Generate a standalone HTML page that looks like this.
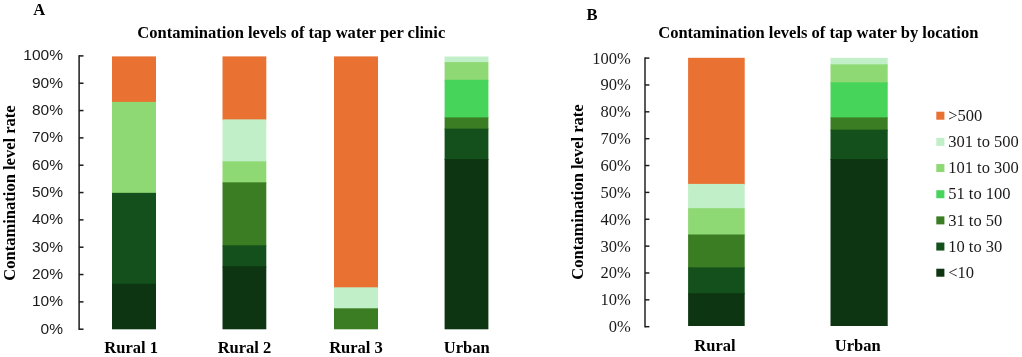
<!DOCTYPE html>
<html><head><meta charset="utf-8"><title>Contamination levels of tap water</title>
<style>
html,body{margin:0;padding:0;background:#fff;}
#fig{position:relative;width:1022px;height:357px;overflow:hidden;background:#fff;font-family:"Liberation Serif",serif;color:#000;}
#fig div{position:absolute;}
.seg{}
.t{white-space:nowrap;line-height:1;}
.b{font-weight:bold;font-size:16.55px;}
.ta{font-family:"Liberation Sans",sans-serif;font-size:15.5px;color:#1a1a1a;text-align:right;width:60px;}
.tb{font-family:"Liberation Serif",serif;font-size:16.5px;color:#1a1a1a;text-align:right;width:60px;}
.lg{font-family:"Liberation Serif",serif;font-size:16.5px;color:#1a1a1a;}
.ax{background:#262626;}
.c{text-align:center;width:120px;}
</style></head><body><div id="fig">

<svg width="1022" height="357" viewBox="0 0 1022 357" style="position:absolute;left:0;top:0">
<rect x="112.00" y="56.40" width="44.00" height="46.48" fill="#E97132"/>
<rect x="112.00" y="101.88" width="44.00" height="91.97" fill="#8ED973"/>
<rect x="112.00" y="192.85" width="44.00" height="91.97" fill="#13501B"/>
<rect x="112.00" y="283.82" width="44.00" height="45.48" fill="#0D3512"/>
<rect x="222.50" y="56.40" width="43.80" height="63.98" fill="#E97132"/>
<rect x="222.50" y="119.38" width="43.80" height="42.98" fill="#C1F0C8"/>
<rect x="222.50" y="161.36" width="43.80" height="21.99" fill="#8ED973"/>
<rect x="222.50" y="182.35" width="43.80" height="63.98" fill="#3B7D23"/>
<rect x="222.50" y="245.33" width="43.80" height="21.99" fill="#13501B"/>
<rect x="222.50" y="266.32" width="43.80" height="62.98" fill="#0D3512"/>
<rect x="334.00" y="56.40" width="44.00" height="231.92" fill="#E97132"/>
<rect x="334.00" y="287.32" width="44.00" height="21.99" fill="#C1F0C8"/>
<rect x="334.00" y="308.31" width="44.00" height="20.99" fill="#3B7D23"/>
<rect x="444.60" y="56.50" width="43.80" height="6.60" fill="#C1F0C8"/>
<rect x="444.60" y="62.10" width="43.80" height="18.70" fill="#8ED973"/>
<rect x="444.60" y="79.80" width="43.80" height="38.60" fill="#47D45A"/>
<rect x="444.60" y="117.40" width="43.80" height="12.20" fill="#3B7D23"/>
<rect x="444.60" y="128.60" width="43.80" height="31.50" fill="#13501B"/>
<rect x="444.60" y="159.10" width="43.80" height="170.20" fill="#0D3512"/>
<rect x="688.10" y="57.80" width="56.60" height="127.10" fill="#E97132"/>
<rect x="688.10" y="183.90" width="56.60" height="25.30" fill="#C1F0C8"/>
<rect x="688.10" y="208.20" width="56.60" height="27.30" fill="#8ED973"/>
<rect x="688.10" y="234.50" width="56.60" height="33.90" fill="#3B7D23"/>
<rect x="688.10" y="267.40" width="56.60" height="26.90" fill="#13501B"/>
<rect x="688.10" y="293.30" width="56.60" height="32.70" fill="#0D3512"/>
<rect x="830.50" y="57.90" width="57.20" height="7.45" fill="#C1F0C8"/>
<rect x="830.50" y="64.35" width="57.20" height="19.00" fill="#8ED973"/>
<rect x="830.50" y="82.35" width="57.20" height="36.05" fill="#47D45A"/>
<rect x="830.50" y="117.40" width="57.20" height="13.25" fill="#3B7D23"/>
<rect x="830.50" y="129.65" width="57.20" height="30.45" fill="#13501B"/>
<rect x="830.50" y="159.10" width="57.20" height="166.90" fill="#0D3512"/>
<rect x="78.35" y="55.15" width="1.5" height="274.80" fill="#1c1c1c"/>
<rect x="79.10" y="328.45" width="4.4" height="1.5" fill="#1c1c1c"/>
<rect x="79.10" y="301.12" width="4.4" height="1.5" fill="#1c1c1c"/>
<rect x="79.10" y="273.79" width="4.4" height="1.5" fill="#1c1c1c"/>
<rect x="79.10" y="246.46" width="4.4" height="1.5" fill="#1c1c1c"/>
<rect x="79.10" y="219.13" width="4.4" height="1.5" fill="#1c1c1c"/>
<rect x="79.10" y="191.80" width="4.4" height="1.5" fill="#1c1c1c"/>
<rect x="79.10" y="164.47" width="4.4" height="1.5" fill="#1c1c1c"/>
<rect x="79.10" y="137.14" width="4.4" height="1.5" fill="#1c1c1c"/>
<rect x="79.10" y="109.81" width="4.4" height="1.5" fill="#1c1c1c"/>
<rect x="79.10" y="82.48" width="4.4" height="1.5" fill="#1c1c1c"/>
<rect x="79.10" y="55.15" width="4.4" height="1.5" fill="#1c1c1c"/>
<rect x="644.27" y="57.38" width="1.45" height="270.05" fill="#1c1c1c"/>
<rect x="645.00" y="325.97" width="4.4" height="1.45" fill="#1c1c1c"/>
<rect x="645.00" y="299.11" width="4.4" height="1.45" fill="#1c1c1c"/>
<rect x="645.00" y="272.25" width="4.4" height="1.45" fill="#1c1c1c"/>
<rect x="645.00" y="245.40" width="4.4" height="1.45" fill="#1c1c1c"/>
<rect x="645.00" y="218.53" width="4.4" height="1.45" fill="#1c1c1c"/>
<rect x="645.00" y="191.68" width="4.4" height="1.45" fill="#1c1c1c"/>
<rect x="645.00" y="164.81" width="4.4" height="1.45" fill="#1c1c1c"/>
<rect x="645.00" y="137.96" width="4.4" height="1.45" fill="#1c1c1c"/>
<rect x="645.00" y="111.10" width="4.4" height="1.45" fill="#1c1c1c"/>
<rect x="645.00" y="84.24" width="4.4" height="1.45" fill="#1c1c1c"/>
<rect x="645.00" y="57.38" width="4.4" height="1.45" fill="#1c1c1c"/>
</svg>
<div class="t ta" style="left:3px;top:320.70px">0%</div>
<div class="t ta" style="left:3px;top:293.37px">10%</div>
<div class="t ta" style="left:3px;top:266.04px">20%</div>
<div class="t ta" style="left:3px;top:238.71px">30%</div>
<div class="t ta" style="left:3px;top:211.38px">40%</div>
<div class="t ta" style="left:3px;top:184.05px">50%</div>
<div class="t ta" style="left:3px;top:156.72px">60%</div>
<div class="t ta" style="left:3px;top:129.39px">70%</div>
<div class="t ta" style="left:3px;top:102.06px">80%</div>
<div class="t ta" style="left:3px;top:74.73px">90%</div>
<div class="t ta" style="left:3px;top:47.40px">100%</div>
<div class="t tb" style="left:570.8px;top:319.10px">0%</div>
<div class="t tb" style="left:570.8px;top:292.24px">10%</div>
<div class="t tb" style="left:570.8px;top:265.38px">20%</div>
<div class="t tb" style="left:570.8px;top:238.52px">30%</div>
<div class="t tb" style="left:570.8px;top:211.66px">40%</div>
<div class="t tb" style="left:570.8px;top:184.80px">50%</div>
<div class="t tb" style="left:570.8px;top:157.94px">60%</div>
<div class="t tb" style="left:570.8px;top:131.08px">70%</div>
<div class="t tb" style="left:570.8px;top:104.22px">80%</div>
<div class="t tb" style="left:570.8px;top:77.36px">90%</div>
<div class="t tb" style="left:570.8px;top:50.50px">100%</div>
<div class="t b" style="left:33.3px;top:1.5px">A</div>
<div class="t b" style="left:586.5px;top:7px">B</div>
<div class="t b" style="left:137.3px;top:25px">Contamination levels of tap water per clinic</div>
<div class="t b" style="left:658.2px;top:25px">Contamination levels of tap water by location</div>
<div class="t b" style="left:9.6px;top:192.6px;transform:translate(-50%,-50%) rotate(-90deg)">Contamination level rate</div>
<div class="t b" style="left:578.1px;top:192.3px;transform:translate(-50%,-50%) rotate(-90deg)">Contamination level rate</div>
<div class="t b c" style="left:71.2px;top:339.9px">Rural 1</div>
<div class="t b c" style="left:184.5px;top:339.9px">Rural 2</div>
<div class="t b c" style="left:296.0px;top:339.9px">Rural 3</div>
<div class="t b c" style="left:406.7px;top:339.9px">Urban</div>
<div class="t b c" style="left:655.0px;top:338px">Rural</div>
<div class="t b c" style="left:797.7px;top:338px">Urban</div>
<svg width="10" height="10" style="position:absolute;left:936px;top:111px"><rect x="0.3" y="0.70" width="8.1" height="8" fill="#E97132"/></svg>
<div class="t lg" style="left:948.2px;top:108px">&gt;500</div>
<svg width="10" height="10" style="position:absolute;left:936px;top:137px"><rect x="0.3" y="0.87" width="8.1" height="8" fill="#C1F0C8"/></svg>
<div class="t lg" style="left:948.2px;top:134px">301 to 500</div>
<svg width="10" height="10" style="position:absolute;left:936px;top:164px"><rect x="0.3" y="0.04" width="8.1" height="8" fill="#8ED973"/></svg>
<div class="t lg" style="left:948.2px;top:160px">101 to 300</div>
<svg width="10" height="10" style="position:absolute;left:936px;top:190px"><rect x="0.3" y="0.21" width="8.1" height="8" fill="#47D45A"/></svg>
<div class="t lg" style="left:948.2px;top:186px">51 to 100</div>
<svg width="10" height="10" style="position:absolute;left:936px;top:216px"><rect x="0.3" y="0.38" width="8.1" height="8" fill="#3B7D23"/></svg>
<div class="t lg" style="left:948.2px;top:213px">31 to 50</div>
<svg width="10" height="10" style="position:absolute;left:936px;top:242px"><rect x="0.3" y="0.55" width="8.1" height="8" fill="#13501B"/></svg>
<div class="t lg" style="left:948.2px;top:239px">10 to 30</div>
<svg width="10" height="10" style="position:absolute;left:936px;top:268px"><rect x="0.3" y="0.72" width="8.1" height="8" fill="#0D3512"/></svg>
<div class="t lg" style="left:948.2px;top:265px">&lt;10</div>
</div></body></html>
